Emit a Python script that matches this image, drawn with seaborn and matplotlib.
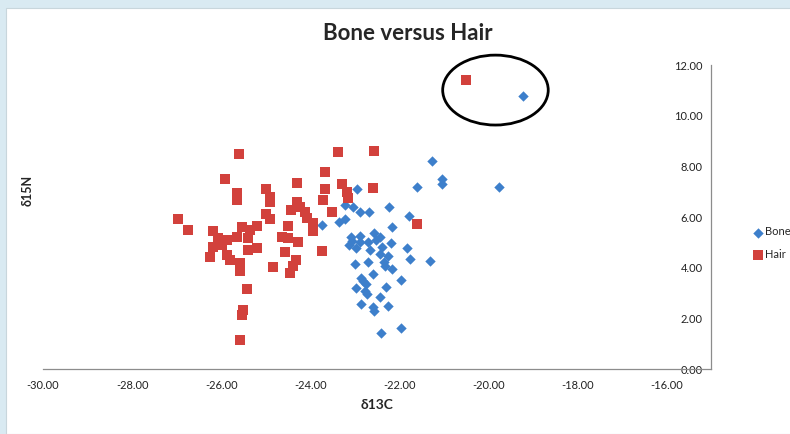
import numpy as np
import pandas as pd
import matplotlib.pyplot as plt
import seaborn as sns
from matplotlib.patches import Ellipse, Rectangle

# valores
bone_d13c = [-19.23, -21.27, -21.05, -21.03, -21.61, -19.75, -22.95, -23.22, -23.04, -22.89,
             -22.69, -22.24, -21.79, -23.22, -23.36, -23.74, -22.17, -23.09, -22.89, -22.57,
             -22.44, -23.13, -22.89, -22.71, -22.66, -22.39, -22.19, -21.83, -22.44, -22.26,
             -21.77, -21.32, -23.00, -22.71, -22.35, -22.33, -22.17, -22.60, -21.95, -22.87,
             -22.75, -22.98, -22.30, -22.78, -22.73, -22.44, -22.87, -22.60, -22.57, -22.26,
             -21.95, -22.42, -23.07, -22.98, -22.82, -22.53]
bone_d15n = [10.78, 8.21, 7.50, 7.30, 7.19, 7.19, 7.11, 6.47, 6.40, 6.20,
             6.20, 6.40, 6.04, 5.92, 5.80, 5.69, 5.61, 5.21, 5.25, 5.37,
             5.21, 4.90, 5.01, 5.01, 4.70, 4.82, 4.97, 4.78, 4.54, 4.46,
             4.34, 4.26, 4.15, 4.22, 4.22, 4.07, 3.95, 3.75, 3.51, 3.59,
             3.36, 3.20, 3.24, 3.08, 2.96, 2.84, 2.57, 2.45, 2.29, 2.49,
             1.62, 1.42, 5.05, 4.78, 3.47, 5.09]

hair_d13c = [-25.60, -23.38, -22.57, -25.92, -24.30, -23.67, -25.65, -25.65, -25.00, -24.91,
             -24.91, -23.67, -23.72, -23.29, -23.18, -23.16, -22.60, -24.30, -24.23, -24.44,
             -24.12, -24.08, -23.94, -23.94, -23.52, -25.00, -24.91, -26.97, -26.75, -26.19,
             -26.07, -25.54, -25.36, -25.20, -25.87, -25.65, -25.40, -26.19, -25.98, -25.20,
             -25.40, -26.25, -25.87, -25.80, -25.58, -25.58, -24.50, -24.64, -24.50, -24.28,
             -24.57, -24.32, -24.39, -24.46, -24.84, -23.74, -25.42, -25.51, -25.54, -25.58,
             -21.61, -20.51]
hair_d15n = [8.49, 8.57, 8.61, 7.50, 7.34, 7.78, 6.95, 6.67, 7.11, 6.79,
             6.59, 7.11, 6.67, 7.30, 6.99, 6.75, 7.15, 6.59, 6.40, 6.28,
             6.20, 5.96, 5.76, 5.45, 6.20, 6.12, 5.92, 5.92, 5.49, 5.45,
             5.17, 5.61, 5.49, 5.65, 5.09, 5.21, 5.17, 4.82, 4.90, 4.78,
             4.70, 4.42, 4.50, 4.30, 4.18, 3.87, 5.65, 5.21, 5.17, 5.01,
             4.62, 4.30, 4.07, 3.79, 4.03, 4.66, 3.16, 2.33, 2.13, 1.14,
             5.72, 11.41]

x_ticks = [-30, -28, -26, -24, -22, -20, -18, -16]
y_ticks = [0, 2, 4, 6, 8, 10, 12]

df = pd.concat([
    pd.DataFrame({'d13C': bone_d13c, 'd15N': bone_d15n, 'serie': 'Bone'}),
    pd.DataFrame({'d13C': hair_d13c, 'd15N': hair_d15n, 'serie': 'Hair'}),
])

sns.set_style('white')
plt.rcParams['font.family'] = ['Lato', 'DejaVu Sans']
plt.rcParams['axes.unicode_minus'] = False

fig = plt.figure(figsize=(7.9, 4.34), dpi=100, facecolor='#d9eaf2')
fig.patches.append(Rectangle((6 / 790, 0), 1, 1 - 8 / 434, transform=fig.transFigure,
                             facecolor='white', edgecolor='#c8d6dc', lw=0.8, zorder=-5))
ax = fig.add_axes([43 / 790, 65 / 434, (711 - 43) / 790, (369 - 65) / 434])
ax.set_facecolor('none')

sns.scatterplot(data=df[df.serie == 'Bone'], x='d13C', y='d15N', marker='D', s=28,
                color='#3d7fcb', linewidth=0, label='Bone', ax=ax, zorder=3)
sns.scatterplot(data=df[df.serie == 'Hair'], x='d13C', y='d15N', marker='s', s=50,
                color='#d2413c', linewidth=0, label='Hair', ax=ax, zorder=3)

ax.set_xlim(-30, -15)
ax.set_ylim(0, 12)
ax.set_xticks(x_ticks)
ax.set_yticks(y_ticks)
ax.set_xticklabels([f'{v:.2f}' for v in x_ticks])
ax.set_yticklabels([f'{v:.2f}' for v in y_ticks])
ax.tick_params(labelsize=8, colors='#222222', length=3, width=0.8, pad=3)
ax.tick_params(axis='x', length=0, pad=8)

ax.spines['left'].set_position(('data', -15))
ax.spines['top'].set_visible(False)
ax.spines['right'].set_visible(False)
for s in ['left', 'bottom']:
    ax.spines[s].set_color('#8c8c8c')
    ax.spines[s].set_linewidth(0.9)

ax.set_xlabel('δ13C', fontsize=10, fontweight='bold', labelpad=6)
ax.set_ylabel('')
fig.text(28 / 790, 1 - 190 / 434, 'δ15N', rotation=90, fontsize=9, fontweight='bold',
         ha='center', va='center')
fig.text(408 / 790, 1 - 33 / 434, 'Bone versus Hair', fontsize=16, fontweight='bold',
         ha='center', va='center')

ax.add_patch(Ellipse((-19.84, 11.01), 2.37, 2.76, fill=False, edgecolor='black',
                     lw=2, clip_on=False, zorder=4))

handles, labels = ax.get_legend_handles_labels()
ax.get_legend().remove()
fig.legend(handles, labels, loc='center left', bbox_to_anchor=(748 / 790, 1 - 243 / 434),
           frameon=False, fontsize=8, handletextpad=0.1, handlelength=1.0,
           labelspacing=1.0, borderaxespad=0)

fig.savefig('out.png', dpi=100, facecolor=fig.get_facecolor())
